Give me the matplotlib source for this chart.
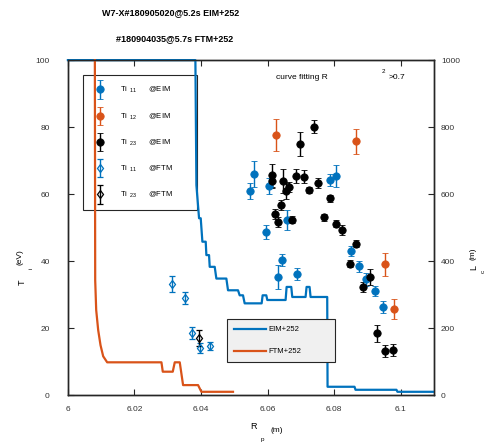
import numpy as np
import matplotlib
matplotlib.use('Agg')
import matplotlib.pyplot as plt
from matplotlib.legend_handler import HandlerErrorbar

matplotlib.rcParams.update({
    'font.family': 'Liberation Sans',
    'mathtext.fontset': 'custom',
    'mathtext.rm': 'Liberation Sans',
    'mathtext.it': 'Liberation Sans:italic',
    'mathtext.bf': 'Liberation Sans:bold',
})

BLUE = '#0072BD'
ORANGE = '#D95319'
AXCOL = '#262626'

# Ti11 @EIM
r_ti11_eim = [6.0560, 6.0546, 6.0604, 6.0786, 6.0806, 6.0594, 6.0658, 6.0643,
              6.0631, 6.0689, 6.0850, 6.0874, 6.0896, 6.0923, 6.0948]
ti11_eim = [66.1, 60.9, 62.4, 64.2, 65.3, 48.7, 52.2, 40.4,
            35.2, 36.1, 42.9, 38.4, 34.6, 31.2, 26.3]
err11_eim = [3.9, 2.4, 2.4, 1.8, 3.3, 2.1, 3.0, 1.8,
             3.6, 1.8, 1.5, 1.5, 2.0, 1.5, 1.8]

# Ti12 @EIM
r_ti12_eim = [6.0626, 6.0865, 6.0953, 6.0981]
ti12_eim = [77.6, 75.8, 39.1, 25.7]
err12_eim = [4.8, 3.7, 3.4, 3.0]

# Ti23 @EIM
r_ti23_eim = [6.0738, 6.0696, 6.0614, 6.0614, 6.0646, 6.0684, 6.0710, 6.0663,
              6.0654, 6.0723, 6.0751, 6.0786, 6.0639, 6.0623, 6.0631, 6.0674,
              6.0769, 6.0804, 6.0824, 6.0865, 6.0848, 6.0908, 6.0886, 6.0929,
              6.0954, 6.0978]
ti23_eim = [80.1, 74.9, 65.6, 63.9, 63.9, 65.4, 65.2, 62.2,
            60.9, 61.2, 63.4, 58.7, 56.7, 54.1, 51.6, 52.4,
            53.1, 51.2, 49.2, 45.2, 39.2, 35.4, 32.2, 18.5,
            13.3, 13.5]
err23_eim = [1.9, 3.6, 3.5, 2.0, 3.5, 2.0, 2.0, 1.5,
             2.5, 1.0, 1.5, 1.0, 1.5, 1.5, 1.5, 1.0,
             1.0, 1.0, 1.5, 1.0, 1.0, 2.4, 1.5, 2.5,
             1.8, 1.8]

# Ti11 / Ti23 @FTM
r_ti11_ftm = [6.0314, 6.0351, 6.0372, 6.0398, 6.0426]
ti11_ftm = [33.2, 29.1, 18.5, 14.0, 14.7]
err11_ftm = [2.5, 1.8, 1.8, 1.5, 1.2]

r_ti23_ftm = [6.0394]
ti23_ftm = [17.0]
err23_ftm = [2.3]

# connection length profiles (right axis)
r_lc_eim = [6.0000, 6.0383, 6.0386, 6.0394, 6.0399, 6.0404, 6.0414, 6.0416,
            6.0424, 6.0426, 6.0441, 6.0446, 6.0476, 6.0481, 6.0511, 6.0516,
            6.0526, 6.0531, 6.0582, 6.0585, 6.0596, 6.0599, 6.0654, 6.0657,
            6.0671, 6.0674, 6.0714, 6.0717, 6.0726, 6.0729, 6.0779, 6.0780,
            6.0861, 6.0864, 6.0987, 6.0990, 6.1098]
lc_eim = [1000, 1000, 627, 528, 528, 458, 458, 418,
          418, 383, 383, 348, 348, 313, 313, 298,
          298, 274, 274, 298, 298, 284, 284, 323,
          323, 293, 293, 323, 323, 293, 293, 25,
          25, 16, 16, 10, 10]

r_lc_ftm = [6.0081, 6.0082, 6.0085, 6.0091, 6.0098, 6.0106, 6.0118, 6.0281,
            6.0285, 6.0315, 6.0321, 6.0336, 6.0346, 6.0391, 6.0401, 6.0496]
lc_ftm = [1000, 343, 254, 194, 149, 116, 98, 98,
          70, 70, 98, 98, 30, 30, 10, 10]


def style_axis(a):
    for s in a.spines.values():
        s.set_color(AXCOL)
        s.set_linewidth(1.0)
    a.tick_params(direction='in', length=4, width=0.8, colors=AXCOL,
                  labelsize=6, labelcolor='#333333')


fig = plt.figure(figsize=(4.85, 4.42), dpi=100)
ax = fig.add_axes([0.140, 0.106, 0.755, 0.758])
ax2 = ax.twinx()

eb = dict(linestyle='none', capsize=2.5, elinewidth=1.0, capthick=1.0,
          markersize=5.3, markeredgewidth=0.6)
h1 = ax.errorbar(r_ti11_eim, ti11_eim, yerr=err11_eim, fmt='o', color=BLUE,
                 mfc=BLUE, mec=BLUE, **eb)
h2 = ax.errorbar(r_ti12_eim, ti12_eim, yerr=err12_eim, fmt='o', color=ORANGE,
                 mfc=ORANGE, mec=ORANGE, **eb)
h3 = ax.errorbar(r_ti23_eim, ti23_eim, yerr=err23_eim, fmt='o', color='k',
                 mfc='k', mec='k', **eb)
eb['markersize'] = 4.5
eb['markeredgewidth'] = 0.9
h4 = ax.errorbar(r_ti11_ftm, ti11_ftm, yerr=err11_ftm, fmt='d', color=BLUE,
                 mfc='none', mec=BLUE, **eb)
h5 = ax.errorbar(r_ti23_ftm, ti23_ftm, yerr=err23_ftm, fmt='d', color='k',
                 mfc='none', mec='k', **eb)

ax.set_xlim(6.0, 6.11)
ax.set_ylim(0, 100)
ax.set_xticks([6.0, 6.02, 6.04, 6.06, 6.08, 6.1])
ax.set_xticklabels(['6', '6.02', '6.04', '6.06', '6.08', '6.1'])
ax.set_yticks([0, 20, 40, 60, 80, 100])
style_axis(ax)
ax.tick_params(axis='x', top=True, pad=8)
ax.tick_params(axis='y', pad=13)

leg1 = ax.legend([h1, h2, h3, h4, h5],
                 [r'Ti$_{\ \ 11}$      @EIM', r'Ti$_{\ \ 12}$      @EIM',
                  r'Ti$_{\ \ 23}$      @EIM', r'Ti$_{\ \ 11}$      @FTM',
                  r'Ti$_{\ \ 23}$      @FTM'],
                 loc='upper left', bbox_to_anchor=(0.041, 0.552, 0.311, 0.403),
                 mode='expand',
                 handler_map={type(h1): HandlerErrorbar(yerr_size=1.2)},
                 fontsize=5.5, labelspacing=2.1, handlelength=1.8,
                 handletextpad=1.8, borderpad=1.3, borderaxespad=0,
                 fancybox=False, framealpha=1, edgecolor=AXCOL)
leg1.get_frame().set_linewidth(0.8)

l1, = ax2.plot(r_lc_eim, lc_eim, color=BLUE, lw=1.6, clip_on=False)
l2, = ax2.plot(r_lc_ftm, lc_ftm, color=ORANGE, lw=1.6, clip_on=False)
ax2.set_ylim(0, 1000)
ax2.set_yticks([0, 200, 400, 600, 800, 1000])
style_axis(ax2)
ax2.tick_params(axis='y', pad=5)

leg2 = ax2.legend([l1, l2], ['EIM+252', 'FTM+252'], loc='upper left',
                  bbox_to_anchor=(0.434, 0.098, 0.295, 0.129), mode='expand',
                  fontsize=5.5, handlelength=4.2, handletextpad=0.3,
                  labelspacing=1.9, borderpad=0.9, borderaxespad=0,
                  fancybox=False, framealpha=1,
                  facecolor='#f0f0f0', edgecolor=AXCOL)
leg2.get_frame().set_linewidth(0.8)

# titles and annotations
fig.text(0.351, 0.971, 'W7-X#180905020@5.2s EIM+252', ha='center',
         va='center', fontsize=6.5, fontweight='bold')
fig.text(0.361, 0.912, '#180904035@5.7s FTM+252', ha='center',
         va='center', fontsize=6.5, fontweight='bold')
fig.text(0.569, 0.824, 'curve fitting R', fontsize=6, va='center')
fig.text(0.786, 0.839, '2', fontsize=4.5, va='center')
fig.text(0.802, 0.824, '>0.7', fontsize=6, va='center')

# axis labels with split subscripts
fig.text(0.522, 0.034, 'R', fontsize=6.5, ha='center', va='center')
fig.text(0.542, 0.006, 'p', fontsize=4.5, ha='center', va='center')
fig.text(0.570, 0.027, '(m)', fontsize=6, ha='center', va='center')

fig.text(0.045, 0.362, 'T', fontsize=6.5, rotation=90, ha='center', va='center')
fig.text(0.064, 0.393, 'i', fontsize=4.5, rotation=90, ha='center', va='center')
fig.text(0.042, 0.418, '(eV)', fontsize=6, rotation=90, ha='center', va='center')

fig.text(0.977, 0.394, 'L', fontsize=6.5, rotation=90, ha='center', va='center')
fig.text(0.996, 0.385, 'c', fontsize=4.5, rotation=90, ha='center', va='center')
fig.text(0.976, 0.425, '(m)', fontsize=6, rotation=90, ha='center', va='center')

fig.savefig('out.png', dpi=100)
